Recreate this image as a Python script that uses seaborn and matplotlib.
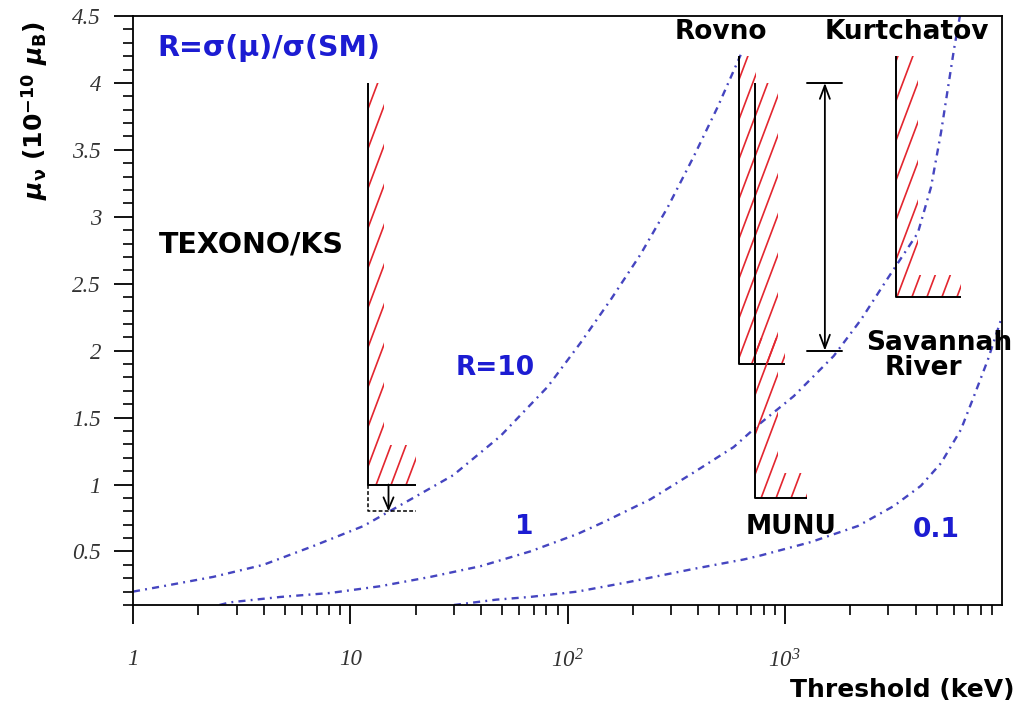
import numpy as np
import pandas as pd
import matplotlib
matplotlib.use("Agg")
import matplotlib.pyplot as plt
import seaborn as sns
from matplotlib.collections import LineCollection
from matplotlib.patches import Polygon

# ---------------- data ----------------
r10_x = [1, 1.37, 2.34, 3.98, 6.75, 11.5, 19.5, 29.8, 49, 81, 115, 158, 217, 289, 381, 491, 627]
r10_y = [0.20, 0.24, 0.31, 0.40, 0.54, 0.69, 0.90, 1.07, 1.36, 1.73, 2.06, 2.38, 2.72, 3.07, 3.45, 3.82, 4.21]

r1_x = [2.5, 2.8, 4.76, 8.1, 13.7, 23.4, 39.8, 67.3, 111, 147, 241, 381, 582, 775, 1100, 1680,
        2240, 2950, 4100, 4710, 5240, 6010, 6400]
r1_y = [0.10, 0.12, 0.16, 0.19, 0.24, 0.31, 0.39, 0.50, 0.63, 0.72, 0.89, 1.09, 1.28, 1.46, 1.66, 1.96,
        2.23, 2.53, 2.88, 3.22, 3.63, 4.25, 4.50]

r01_x = [30, 47, 67, 111, 189, 381, 647, 775, 1318, 2170, 3180, 4230, 5240, 6470, 7430, 8600, 9890]
r01_y = [0.10, 0.14, 0.16, 0.20, 0.27, 0.37, 0.44, 0.47, 0.57, 0.69, 0.84, 0.99, 1.16, 1.41, 1.66, 1.93, 2.23]

curve_labels = ["10", "1", "0.1"]

# experiments: excluded regions (threshold edge, end of floor, top, limit)
exp_names = ["TEXONO/KS", "Rovno", "MUNU", "Kurtchatov"]
exp_x = [12.1, 614, 727, 3240]
exp_xend = [20.1, 1000, 1260, 6470]
exp_ytop = [4.0, 4.2, 4.0, 4.2]
exp_limit = [1.0, 1.9, 0.9, 2.4]

# TEXONO projected sensitivity
texono_goal_x = 15.0
texono_goal_y = 0.8

# Savannah River range
sav_x = 1530
sav_range = [2.0, 4.0]
sav_cap = [1262, 1832]

x_ticks = [1, 10, 100, 1000]
x_ticklabels = ["1", "10", r"$\mathit{10^{2}}$", r"$\mathit{10^{3}}$"]
y_ticks = [0.5, 1, 1.5, 2, 2.5, 3, 3.5, 4, 4.5]
y_ticklabels = ["0.5", "1", "1.5", "2", "2.5", "3", "3.5", "4", "4.5"]

# ---------------- style ----------------
sns.set_theme(style="white")
plt.rcParams["font.family"] = ["DejaVu Sans"]
plt.rcParams["mathtext.fontset"] = "custom"
plt.rcParams["mathtext.rm"] = "Liberation Serif:italic"
plt.rcParams["mathtext.it"] = "Liberation Serif:italic"
plt.rcParams["mathtext.bf"] = "DejaVu Sans:bold"
plt.rcParams["mathtext.bfit"] = "DejaVu Sans:bold:italic"

BLUE_TXT = "#1c1cd2"
BLUE_LINE = "#4545c0"
HATCH_RED = "#e3262f"
LBL = 19

fig = plt.figure(figsize=(10.19, 7.12), dpi=100)
ax = fig.add_axes([133 / 1019, 1 - 605 / 712, (1002 - 133) / 1019, (605 - 16) / 712])
ax.set_xscale("log")
ax.set_xlim(1, 1e4)
ax.set_ylim(0.1, 4.5)

# ---------------- curves ----------------
df = pd.DataFrame({
    "x": r10_x + r1_x + r01_x,
    "y": r10_y + r1_y + r01_y,
    "R": [curve_labels[0]] * len(r10_x) + [curve_labels[1]] * len(r1_x) + [curve_labels[2]] * len(r01_x),
})
sns.lineplot(data=df, x="x", y="y", units="R", estimator=None, sort=False, color=BLUE_LINE,
             linewidth=1.7, linestyle=(0, (3, 2.2, 0.8, 2.2)), legend=False, ax=ax)
ax.set_xlim(1, 1e4)
ax.set_ylim(0.1, 4.5)


def px_offset(x, y, dx, dy):
    d = ax.transData.transform((x, y))
    return ax.transData.inverted().transform((d[0] + dx, d[1] + dy))


def steep_hatch(verts, spacing=15.0, slope=2.65):
    patch = Polygon(verts, closed=True, facecolor="none", edgecolor="none", transform=ax.transData)
    ax.add_patch(patch)
    W, H = ax.bbox.width, ax.bbox.height
    segs = []
    for x0 in np.arange(-H / slope, W, spacing):
        segs.append([(x0 / W, 0.0), ((x0 + H / slope) / W, 1.0)])
    lc = LineCollection(segs, transform=ax.transAxes, colors=HATCH_RED, linewidths=1.2)
    lc.set_clip_path(patch)
    ax.add_collection(lc, autolim=False)


band_w = [16, 17, 23, 22]
band_h = [40, 26, 25, 22]
for i in range(len(exp_names)):
    x0, xe, yt, yl = exp_x[i], exp_xend[i], exp_ytop[i], exp_limit[i]
    xb = px_offset(x0, yl, band_w[i], 0)[0]
    yb = px_offset(x0, yl, 0, band_h[i])[1]
    verts = [(x0, yt), (x0, yl), (xe, yl), (xe, yb), (xb, yb), (xb, yt)]
    steep_hatch(verts)
    ax.plot([x0, x0, xe], [yt, yl, yl], color="black", lw=1.4, solid_capstyle="butt")

# TEXONO projected goal: dashed box + arrow
ax.plot([exp_x[0], exp_x[0], exp_xend[0]], [exp_limit[0], texono_goal_y, texono_goal_y],
        color="black", lw=1.1, linestyle=(0, (2.5, 1.5)))
ax.annotate("", xy=(texono_goal_x, texono_goal_y), xytext=(texono_goal_x, exp_limit[0]),
            arrowprops=dict(arrowstyle="->,head_length=0.7,head_width=0.3", color="black", lw=1.3,
                            shrinkA=0, shrinkB=0))

# Savannah River range
ax.annotate("", xy=(sav_x, sav_range[1]), xytext=(sav_x, sav_range[0]),
            arrowprops=dict(arrowstyle="<->,head_length=0.8,head_width=0.3", color="black", lw=1.3,
                            shrinkA=0, shrinkB=0))
for yv in sav_range:
    ax.plot(sav_cap, [yv, yv], color="black", lw=1.4)

# ---------------- text ----------------
ax.text(1.30, 4.26, "R=σ(μ)/σ(SM)", color=BLUE_TXT, fontsize=20.5, fontweight="bold", ha="left", va="center")
ax.text(3.5, 2.79, "TEXONO/KS", color="black", fontsize=20.5, fontweight="bold", ha="center", va="center")
ax.text(507, 4.38, "Rovno", color="black", fontsize=LBL, fontweight="bold", ha="center", va="center")
ax.text(3650, 4.38, "Kurtchatov", color="black", fontsize=LBL, fontweight="bold", ha="center", va="center")
ax.text(1066, 0.68, "MUNU", color="black", fontsize=LBL, fontweight="bold", ha="center", va="center")
ax.text(2362, 2.06, "Savannah", color="black", fontsize=LBL, fontweight="bold", ha="left", va="center",
        clip_on=False)
ax.text(4325, 1.87, "River", color="black", fontsize=LBL, fontweight="bold", ha="center", va="center")
ax.text(46.6, 1.87, "R=" + curve_labels[0], color=BLUE_TXT, fontsize=LBL, fontweight="bold", ha="center", va="center")
ax.text(63.4, 0.68, curve_labels[1], color=BLUE_TXT, fontsize=LBL, fontweight="bold", ha="center", va="center")
ax.text(4966, 0.66, curve_labels[2], color=BLUE_TXT, fontsize=LBL, fontweight="bold", ha="center", va="center")

# ---------------- axes ----------------
for s in ax.spines.values():
    s.set_visible(True)
    s.set_color("black")
    s.set_linewidth(1.3)

ax.set_xticks(x_ticks)
ax.set_xticklabels(x_ticklabels)
ax.xaxis.set_minor_locator(matplotlib.ticker.LogLocator(base=10, subs=np.arange(2, 10)))
ax.xaxis.set_minor_formatter(matplotlib.ticker.NullFormatter())
ax.set_yticks(y_ticks)
ax.set_yticklabels(y_ticklabels)
ax.yaxis.set_minor_locator(matplotlib.ticker.MultipleLocator(0.1))

ax.tick_params(axis="both", which="major", direction="out", length=14, width=1.3, color="black",
               bottom=True, left=True, top=False, right=False, labelsize=16.5, labelcolor="#333333")
ax.tick_params(axis="both", which="minor", direction="out", length=7.5, width=1.2, color="black",
               bottom=True, left=True, top=False, right=False)
ax.tick_params(axis="x", which="major", pad=18)
ax.tick_params(axis="y", which="major", pad=9)
for t in ax.get_xticklabels() + ax.get_yticklabels():
    t.set_fontfamily("Liberation Serif")
    t.set_fontstyle("italic")

ax.set_xlabel("")
ax.set_ylabel("")
fig.text(1015 / 1019, 1 - 690 / 712, "Threshold (keV)", fontsize=18, fontweight="bold",
         ha="right", va="center", color="black")
fig.text(35 / 1019, 1 - 110 / 712, r"$\boldsymbol{\mu}_{\mathbf{\nu}}$ (10$^{\mathbf{-10}}$ $\boldsymbol{\mu}_{\mathbf{B}}$)",
         fontsize=18, fontweight="bold", rotation=90, ha="center", va="center", color="black")

fig.savefig("out.png", dpi=100)
